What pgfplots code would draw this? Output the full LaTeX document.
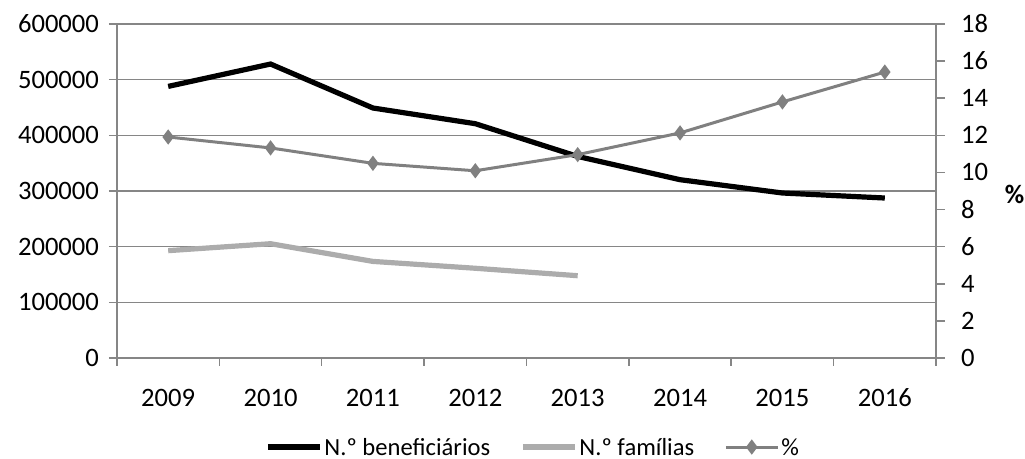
\documentclass[border=0pt]{standalone}
\usepackage{pgfplots}
\pgfplotsset{compat=1.18}
\usepackage{fontspec}
\setmainfont{Carlito}
\definecolor{gridc}{RGB}{134,134,134}
\definecolor{famc}{RGB}{172,172,172}
\definecolor{pctc}{RGB}{128,128,128}
\begin{document}
\begin{tikzpicture}
\pgfplotsset{
  base/.style={
    scale only axis, width=409.5pt, height=167pt,
    xmin=-0.5, xmax=7.5,
    font=\fontsize{13.3pt}{16pt}\selectfont,
    /pgf/number format/assume math mode=true,
    /pgf/number format/fixed, scaled ticks=false,
    tick align=outside, axis line style={gridc, line width=0.75pt, -},
  }
}
\begin{axis}[base, name=ax,
    axis x line*=bottom, axis y line*=left,
    ymin=0, ymax=600000, ytick={0,100000,...,600000},
    /pgf/number format/1000 sep={},
    ymajorgrids, major grid style={gridc, line width=0.75pt},
    xtick={0,...,7}, xticklabels={2009,2010,2011,2012,2013,2014,2015,2016},
    minor xtick={-0.5,0.5,...,7.5},
    major tick length=4pt, minor tick length=4pt,
    major x tick style={draw=none},
    minor x tick style={gridc, line width=0.75pt},
    y tick style={gridc, line width=0.75pt},
    xticklabel style={yshift=-7.5pt, text height=9pt, text depth=0pt},
    yticklabel style={xshift=-1.5pt},
    legend columns=3,
    legend style={draw=none, fill=none, at={(0.508,-0.2994)}, anchor=south,
      font=\fontsize{12.3pt}{14pt}\selectfont,
      nodes={inner sep=1pt, text depth=0pt},
      /tikz/every even column/.append style={column sep=14pt},
      inner sep=0pt, cells={anchor=west}},
    legend image code/.code={\draw[mark repeat=2,mark phase=2,#1] plot coordinates {(0pt,0pt) (13pt,0pt) (26pt,0pt)};},
  ]
  \coordinate (o) at (rel axis cs:0,0);
  \addplot[black, line width=2.6pt, mark=none] coordinates {
    (0,487900) (1,528100) (2,449100) (3,420900)
    (4,362100) (5,320300) (6,296400) (7,287400)
  };
  \addlegendentry{N.º beneficiários}
  \addplot[famc, line width=2.6pt, mark=none] coordinates {
    (0,192800) (1,205300) (2,173500) (3,161200) (4,147800)
  };
  \addlegendentry{N.º famílias}
  \addlegendimage{pctc, line width=1.5pt, mark=diamond*, mark size=2.6pt}
  \addlegendentry{\%}
\end{axis}
\begin{axis}[base,
    axis x line=none, axis y line*=right,
    ymin=0, ymax=18, ytick={0,2,...,18},
    major tick length=4.5pt,
    y tick style={gridc, line width=0.75pt},
    yticklabel style={xshift=4.5pt},
  ]
  \coordinate (pm) at (rel axis cs:1,0.5);
  \addplot[pctc, line width=1.5pt, mark=diamond*, mark size=2.6pt] coordinates {
    (0,11.91) (1,11.32) (2,10.49) (3,10.09)
    (4,10.96) (5,12.13) (6,13.80) (7,15.41)
  };
\end{axis}
\node[font=\fontsize{13.3pt}{16pt}\selectfont\bfseries, anchor=center]
  at ([shift={(39.25pt,-1.5pt)}]pm) {\%};
\pgfresetboundingbox
\useasboundingbox ([shift={(-58.5pt,-50.5pt)}]o) rectangle ++(512.5pt,229.5pt);
\end{tikzpicture}
\end{document}
